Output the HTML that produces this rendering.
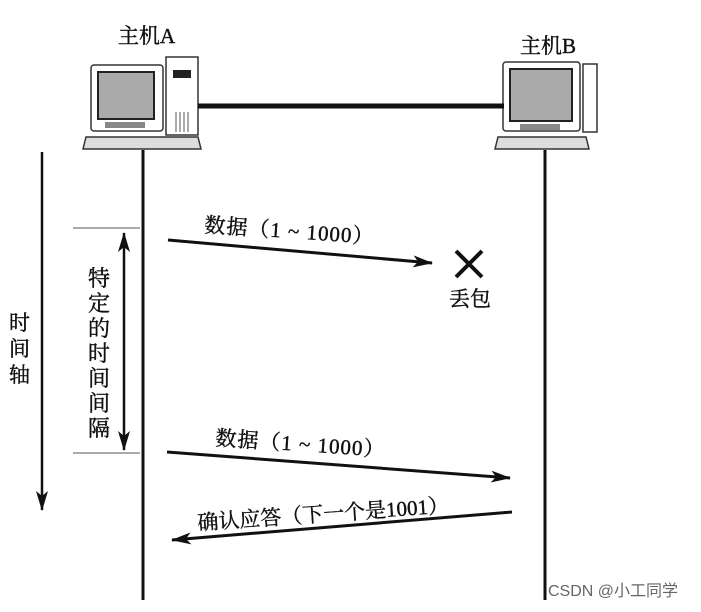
<!DOCTYPE html>
<html><head><meta charset="utf-8"><style>
body{margin:0;background:#fff;}
svg text{font-family:"Liberation Serif","Noto Serif CJK SC","Noto Sans CJK SC",serif;fill:#111;stroke:#111;stroke-width:0.4;}
</style></head><body>
<svg width="701" height="607" viewBox="0 0 701 607" xmlns="http://www.w3.org/2000/svg">
<defs>
<marker id="ah" markerWidth="20" markerHeight="12" refX="19" refY="6" orient="auto" markerUnits="userSpaceOnUse">
<path d="M0,0 L20,6 L0,12 L5,6 z" fill="#111"/></marker>
<marker id="ahs" markerWidth="20" markerHeight="12" refX="1" refY="6" orient="auto" markerUnits="userSpaceOnUse">
<path d="M20,0 L0,6 L20,12 L15,6 z" fill="#111"/></marker>
</defs>
<text x="118" y="43" font-size="21">主机A</text>
<text x="520" y="53" font-size="21">主机B</text>
<!-- Host A -->
<rect x="91" y="65" width="72" height="66" rx="3" fill="#fff" stroke="#333" stroke-width="1.5"/>
<rect x="98" y="72" width="56" height="47" fill="#aaa" stroke="#222" stroke-width="2"/>
<rect x="105" y="122" width="40" height="6" fill="#888"/>
<rect x="166" y="57" width="32" height="78" fill="#fff" stroke="#333" stroke-width="1.5"/>
<rect x="173" y="70" width="18" height="8" fill="#222"/>
<path d="M176,112v20M180,112v20M184,112v20M188,112v20" stroke="#555"/>
<path d="M86,137h112l3,12h-118z" fill="#ddd" stroke="#333" stroke-width="1.5"/>
<!-- Host B -->
<rect x="503" y="62" width="77" height="69" rx="3" fill="#fff" stroke="#333" stroke-width="1.5"/>
<rect x="510" y="69" width="62" height="52" fill="#aaa" stroke="#222" stroke-width="2"/>
<rect x="520" y="124" width="40" height="6" fill="#888"/>
<rect x="583" y="64" width="14" height="68" fill="#fff" stroke="#333" stroke-width="1.5"/>
<path d="M498,137h88l3,12h-94z" fill="#ddd" stroke="#333" stroke-width="1.5"/>
<line x1="198" y1="106" x2="504" y2="106" stroke="#111" stroke-width="5"/>
<line x1="143" y1="150" x2="143" y2="600" stroke="#111" stroke-width="3"/>
<line x1="545" y1="150" x2="545" y2="600" stroke="#111" stroke-width="3"/>
<line x1="42" y1="152" x2="42" y2="510" stroke="#111" stroke-width="2.5" marker-end="url(#ah)"/>
<g font-size="21"><text x="9" y="330">时</text><text x="9" y="356">间</text><text x="9" y="382">轴</text></g>
<line x1="73" y1="228" x2="140" y2="228" stroke="#555"/>
<line x1="73" y1="453" x2="140" y2="453" stroke="#555"/>
<line x1="124" y1="233" x2="124" y2="450" stroke="#111" stroke-width="2.5" marker-start="url(#ahs)" marker-end="url(#ah)"/>
<g font-size="22">
<text x="88" y="286">特</text><text x="88" y="311">定</text><text x="88" y="336">的</text><text x="88" y="361">时</text><text x="88" y="386">间</text><text x="88" y="411">间</text><text x="88" y="436">隔</text>
</g>
<line x1="168" y1="240" x2="432" y2="263" stroke="#111" stroke-width="3" marker-end="url(#ah)"/>
<text x="204" y="232" font-size="21" letter-spacing="1" transform="rotate(4 204 232)">数据（1 ~ 1000）</text>
<path d="M456,251l26,26M482,251l-26,26" stroke="#111" stroke-width="4"/>
<text x="449" y="306" font-size="21">丢包</text>
<line x1="167" y1="452" x2="510" y2="478" stroke="#111" stroke-width="3" marker-end="url(#ah)"/>
<text x="215" y="445" font-size="21" letter-spacing="1" transform="rotate(4 215 445)">数据（1 ~ 1000）</text>
<line x1="512" y1="512" x2="172" y2="540" stroke="#111" stroke-width="3" marker-end="url(#ah)"/>
<text x="198" y="530" font-size="21" transform="rotate(-4 198 530)">确认应答（下一个是1001）</text>
<text x="548" y="596" font-size="16" style="font-family:'Liberation Sans','Noto Sans CJK SC',sans-serif;fill:#666;stroke:none">CSDN @小工同学</text>
</svg>
</body></html>
